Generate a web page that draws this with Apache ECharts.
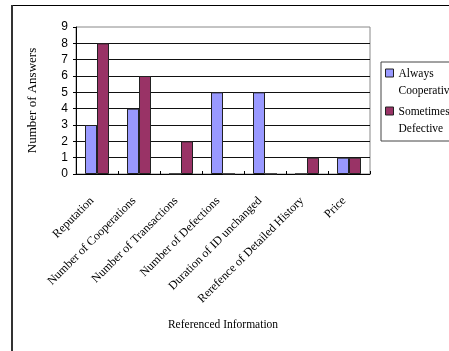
<!DOCTYPE html>
<html>
<head>
<meta charset="utf-8">
<script src="https://cdn.jsdelivr.net/npm/echarts@6/dist/echarts.min.js"></script>
<style>
  html, body { margin: 0; padding: 0; background: #fff; }
  #chart { width: 449px; height: 351px; }
</style>
</head>
<body>
<div id="chart"></div>
<script>
// Referenced information categories and answer counts
var categories = [
  'Reputation',
  'Number of Cooperations',
  'Number of Transactions',
  'Number of Defections',
  'Duration of ID unchanged',
  'Rerefence of Detailed History',
  'Price'
];
var alwaysCooperative = [3, 4, 0, 5, 5, 0, 1];
var sometimesDefective = [8, 6, 2, 0, 0, 1, 1];
var seriesNames = ['Always Cooperative', 'Sometimes Defective'];
var legendLabels = {
  'Always Cooperative': 'Always\nCooperative',
  'Sometimes Defective': 'Sometimes\nDefective'
};

var serif = '"Liberation Serif", "Times New Roman", serif';
var sans = '"Liberation Sans", Arial, sans-serif';

// legend swatch: a square sitting at the top of a taller (invisible) box,
// so it lines up with the first line of a two-line label
var topSquareIcon = 'path://M0,0L8,0L8,8L0,8Z M0,26L0,26';

var chart = echarts.init(document.getElementById('chart'), null, { renderer: 'canvas' });

chart.setOption({
  backgroundColor: '#ffffff',
  animation: false,
  graphic: [
    // outer frame (top and left edges visible)
    { type: 'line', shape: { x1: 11.5, y1: 5.5, x2: 460, y2: 5.5 }, style: { stroke: '#000', lineWidth: 1 } },
    { type: 'line', shape: { x1: 12, y1: 5, x2: 12, y2: 360 }, style: { stroke: '#333', lineWidth: 2 } }
  ],
  grid: {
    left: 76, top: 27, right: 79, bottom: 177,
    show: true, borderColor: '#888', borderWidth: 1, backgroundColor: '#fff'
  },
  legend: {
    orient: 'vertical',
    left: 381, top: 62,
    padding: [3, 12, 4, 4],
    itemGap: 4,
    itemWidth: 8, itemHeight: 26,
    borderColor: '#444', borderWidth: 1,
    backgroundColor: '#fff',
    icon: topSquareIcon,
    itemStyle: { borderColor: '#222', borderWidth: 1 },
    data: seriesNames,
    formatter: function (name) { return legendLabels[name]; },
    textStyle: {
      fontFamily: serif, fontSize: 11.5, color: '#000',
      lineHeight: 17
    }
  },
  xAxis: {
    type: 'category',
    data: categories,
    boundaryGap: true,
    name: 'Referenced Information',
    nameLocation: 'middle',
    nameGap: 145,
    nameTextStyle: { fontFamily: serif, fontSize: 11.5, color: '#000' },
    axisLine: { lineStyle: { color: '#000', width: 1 } },
    axisTick: { show: true, inside: true, length: 3, alignWithLabel: false, lineStyle: { color: '#000' } },
    axisLabel: {
      interval: 0, rotate: 45, margin: 20,
      padding: [0, 7, 0, 0],
      fontFamily: serif, fontSize: 12, color: '#000'
    }
  },
  yAxis: {
    type: 'value',
    min: 0, max: 9, interval: 1,
    name: 'Number of Answers',
    nameLocation: 'middle',
    nameGap: 37,
    nameTextStyle: { fontFamily: serif, fontSize: 13, color: '#000' },
    axisLine: { show: true, lineStyle: { color: '#000', width: 1 } },
    axisTick: { show: true, inside: false, length: 3, lineStyle: { color: '#000' } },
    axisLabel: { fontFamily: sans, fontSize: 12, color: '#000', margin: 8 },
    splitLine: { show: true, showMaxLine: false, lineStyle: { color: '#111', width: 1 } }
  },
  series: [
    {
      name: seriesNames[0],
      type: 'bar',
      data: alwaysCooperative,
      barWidth: 12,
      barGap: '0%',
      itemStyle: { color: '#9999FF', borderColor: '#222', borderWidth: 1 }
    },
    {
      name: seriesNames[1],
      type: 'bar',
      data: sometimesDefective,
      barWidth: 12,
      barGap: '0%',
      itemStyle: { color: '#993366', borderColor: '#222', borderWidth: 1 }
    }
  ]
});
</script>
</body>
</html>
